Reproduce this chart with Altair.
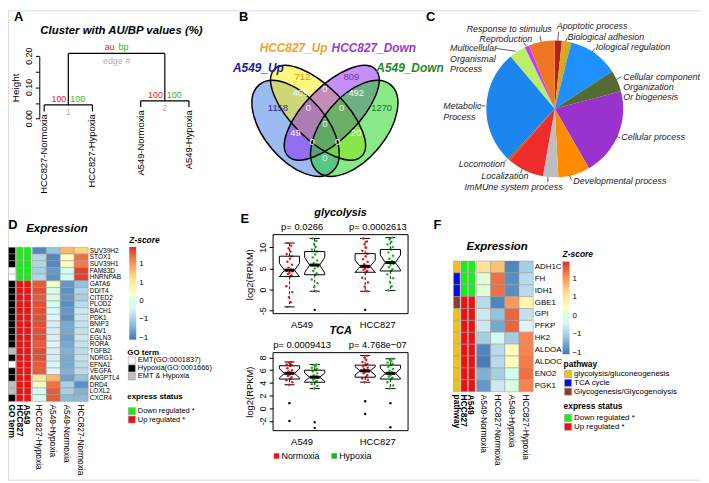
import math
import altair as alt
import pandas as pd

FONT = "Liberation Sans"

# ============================ DATA ============================
# ---- A: pvclust dendrogram
A_leaves = ["HCC827-Normoxia", "HCC827-Hypoxia", "A549-Normoxia", "A549-Hypoxia"]
A_merge_height = [0.044, 0.057, 0.209]          # HCC827 pair, A549 pair, root
A_au = ["au", "100", "100"]                      # root, node 1, node 2
A_bp = ["bp", "100", "100"]
A_edge = ["edge #", "1", "2"]
A_yticks = [0.0, 0.05, 0.10, 0.15, 0.20]
A_ylabels = ["0.00", "0.10", "0.20"]

# ---- B: Venn diagram
B_sets = ["A549_Up", "HCC827_Up", "HCC827_Down", "A549_Down"]
B_set_text_colors = ["#1c1c94", "#f5a02a", "#9a3cc8", "#1f8a1f"]
B_fill_colors = ["#3a78e4", "#fff200", "#8a22f0", "#14d414"]
B_counts = ["1158", "712", "809", "1270", "409", "0", "492", "0", "0", "0", "49", "0", "0", "20", "0"]
B_count_colors = ["#25259a", "#e8921a", "#7a35a8", "#1b7a1b"] + ["#f6f6f6"] * 11

# ---- C: GO pie
C_terms = ["Apoptotic process", "Biological adhesion", "Biological regulation",
           "Cellular component organization or biogenesis", "Cellular process",
           "Developmental process", "Immune system process", "Localization", "Locomotion",
           "Metabolic process", "Multicellular organismal process", "Reproduction",
           "Response to stimulus"]
C_counts = [6, 8, 43, 18, 75, 27, 13, 31, 2, 97, 14, 4, 22]
C_colors = ["#b22222", "#daa520", "#1e90ff", "#556b2f", "#9a32cd", "#ff8c00", "#bebebe",
            "#ee2c2c", "#cd5500", "#1c86ee", "#bcee68", "#bf3eff", "#ee7621"]
C_label_lines = ["Apoptotic process", "Biological adhesion", "Iological regulation",
                 "Cellular component", "Organization", "Or biogenesis", "Cellular process",
                 "Developmental process", "ImMUne system process", "Localization", "Locomotion",
                 "Metabolic", "Process", "Multicellular", "Organismal", "Process",
                 "Reproduction", "Response to stimulus"]

# ---- D: hypoxia / EMT heatmap
D_genes = ["SUV39H2", "STOX1", "SUV39H1", "FAM83D", "HNRNPAB", "GATA6", "DDIT4", "CITED2",
           "PLOD2", "BACH1", "PDK1", "BNIP3", "CAV1", "EGLN3", "RORA", "TGFB2", "NDRG1",
           "EFNA1", "VEGFA", "ANGPTL4", "DRD4", "LOXL2", "CXCR4"]
D_cols = ["HCC827-Hypoxia", "A549-Hypoxia", "A549-Normoxia", "HCC827-Normoxia"]
D_HCC827_Hypoxia = [-0.95, -0.45, -0.45, -0.5, -0.45, 1.3, 1.35, 1.3, 1.35, 1.35, 1.35, 1.35,
                    1.35, 1.35, 1.3, 1.35, 1.35, 1.3, 1.3, 0.55, 0.2, -0.1, 0.0]
D_A549_Hypoxia = [-0.6, -0.95, -0.95, -0.85, -0.9, 0.15, 0.0, 0.05, -0.05, -0.2, -0.15, -0.25,
                  -0.25, -0.25, -0.2, -0.25, -0.25, -0.15, -0.2, 0.85, 1.2, 1.3, 1.3]
D_A549_Normoxia = [0.85, 0.2, 0.25, -0.05, -0.05, -0.85, -0.9, -0.85, -0.9, -0.85, -0.9, -0.75,
                   -0.75, -0.8, -0.75, -0.7, -0.75, -0.75, -0.7, -0.8, -0.5, -0.5, -0.65]
D_HCC827_Normoxia = [0.7, 1.2, 1.15, 1.4, 1.4, -0.6, -0.45, -0.5, -0.4, -0.3, -0.3, -0.35,
                     -0.35, -0.3, -0.35, -0.4, -0.35, -0.4, -0.4, -0.6, -0.9, -0.7, -0.65]
D_go_term = ["Hypoxia(GO:0001666)"] * 3 + ["EMT(GO:0001837)"] * 2 + ["Hypoxia(GO:0001666)"] * 10 + \
            ["EMT & Hypoxia", "Hypoxia(GO:0001666)", "EMT(GO:0001837)", "Hypoxia(GO:0001666)",
             "Hypoxia(GO:0001666)", "EMT & Hypoxia", "EMT & Hypoxia", "Hypoxia(GO:0001666)"]
D_HCC827_status = ["Down regulated *"] * 5 + ["Up regulated *"] * 18
D_A549_status = ["Down regulated *"] * 5 + ["Up regulated *"] * 18
GO_levels = ["EMT(GO:0001837)", "Hypoxia(GO:0001666)", "EMT & Hypoxia"]
GO_colors = ["#ffffff", "#000000", "#bebebe"]
ST_levels = ["Down regulated *", "Up regulated *"]
ST_colors = ["#19ee19", "#ee1111"]

# ---- E: notched boxplots (log2 RPKM)
E_groups = ["A549", "HCC827"]
E_conds = ["Normoxia", "Hypoxia"]
E_box_cond = ["Normoxia", "Hypoxia", "Normoxia", "Hypoxia"]
GLY_pvals = ["p= 0.0266", "p= 0.0002613"]
TCA_pvals = ["p= 0.0009413", "p= 4.768e\u221207"]
GLY_WLO = [-4.1, -0.4, -0.4, -0.2]
GLY_Q1 = [3.1, 3.5, 4.1, 4.4]
GLY_MED = [4.6, 5.8, 5.5, 6.4]
GLY_Q3 = [7.9, 9.0, 8.5, 9.5]
GLY_WHI = [11.0, 12.1, 12.1, 12.3]
GLY_A549_Normoxia = [-4.1, -3.0, -1.8, -0.6, 0.8, 3.1, 3.4, 3.7, 4.0, 4.3, 4.5, 4.7, 5.2, 5.9, 6.6,
                     7.3, 7.9, 8.4, 9.0, 9.8, 10.4, 11.0]
GLY_A549_Hypoxia = [-4.8, -0.4, 0.6, 1.5, 2.4, 3.5, 3.9, 4.4, 5.0, 5.4, 5.7, 5.9, 6.3, 6.9, 7.6,
                    8.3, 9.0, 9.5, 10.1, 10.8, 11.5, 12.1]
GLY_HCC827_Normoxia = [-4.8, -0.4, 0.7, 1.7, 2.8, 4.1, 4.4, 4.7, 5.0, 5.2, 5.4, 5.6, 6.0, 6.6, 7.2,
                       7.9, 8.5, 9.2, 9.9, 10.7, 11.4, 12.1]
GLY_HCC827_Hypoxia = [-0.2, 0.8, 1.8, 2.7, 3.6, 4.4, 4.8, 5.3, 5.8, 6.1, 6.4, 6.8, 7.3, 8.0, 8.8,
                      9.5, 10.1, 10.7, 11.3, 11.9, 12.3]
TCA_WLO = [3.7, 3.1, 4.1, 3.1]
TCA_Q1 = [4.6, 4.1, 4.9, 4.6]
TCA_MED = [5.5, 4.9, 5.9, 5.5]
TCA_Q3 = [6.7, 6.0, 6.8, 6.8]
TCA_WHI = [7.3, 6.9, 8.3, 7.8]
TCA_A549_Normoxia = [-2.0, 0.8, 3.7, 4.1, 4.4, 4.6, 4.9, 5.1, 5.3, 5.4, 5.5, 5.6, 5.8, 6.0, 6.3,
                     6.7, 6.8, 6.9, 7.0, 7.2, 7.3]
TCA_A549_Hypoxia = [-3.1, -2.2, 3.1, 3.5, 3.8, 4.1, 4.3, 4.5, 4.7, 4.8, 4.9, 5.0, 5.2, 5.5, 5.8,
                    6.0, 6.2, 6.4, 6.6, 6.8, 6.9]
TCA_HCC827_Normoxia = [-0.9, 1.1, 4.1, 4.5, 4.7, 4.9, 5.2, 5.5, 5.7, 5.8, 5.9, 6.0, 6.2, 6.4, 6.6,
                       6.8, 7.0, 7.3, 7.6, 8.0, 8.3]
TCA_HCC827_Hypoxia = [-3.0, 0.8, 3.1, 3.6, 4.1, 4.6, 4.8, 5.0, 5.2, 5.4, 5.5, 5.7, 5.9, 6.2, 6.5,
                      6.8, 7.0, 7.2, 7.4, 7.6, 7.8]
GLY_YTICKS = [-5, 0, 5, 10]
TCA_YTICKS = [-2, 0, 2, 4, 6, 8]
E_red, E_green = "#e8161b", "#19b419"

# ---- F: glycolysis / TCA heatmap
F_genes = ["ADH1C", "FH", "IDH1", "GBE1", "GPI", "PFKP", "HK2", "ALDOA", "ALDOC", "ENO2", "PGK1"]
F_cols = ["A549-Normoxia", "HCC827-Normoxia", "A549-Hypoxia", "HCC827-Hypoxia"]
F_A549_Normoxia = [0.6, 0.1, 0.1, -0.4, -0.3, -0.3, -0.5, -0.95, -1.0, -0.7, -0.85]
F_HCC827_Normoxia = [0.8, 1.2, 1.2, -0.95, -0.6, -0.75, -0.1, -0.4, -0.4, -0.5, -0.3]
F_A549_Hypoxia = [-0.95, -0.9, -0.9, 1.0, 1.25, 1.25, -0.5, 0.25, 0.25, 0.0, 0.05]
F_HCC827_Hypoxia = [-0.5, -0.4, -0.4, 0.35, -0.35, -0.2, 1.1, 1.1, 1.15, 1.2, 1.1]
PW_levels = ["glycolysis/gluconeogenesis", "TCA cycle", "Glycogenesis/Glycogenolysis"]
PW_colors = ["#eec21a", "#0a0ae6", "#8b3d2e"]
F_pathway = [PW_levels[0], PW_levels[1], PW_levels[1], PW_levels[2]] + [PW_levels[0]] * 7
F_HCC827_status = ["Down regulated *"] * 3 + ["Up regulated *"] * 8
F_A549_status = ["Down regulated *"] * 3 + ["Up regulated *"] * 8

Z_colors = ["#4575b4", "#91bfdb", "#e0f3f8", "#ffffbf", "#fee090", "#fc8d59", "#d73027"]

# ============================ LAYOUT ============================
SX, SY = 0.988, 0.985


def X(px):
    return (px - 1.0) * SX


def Y(py):
    return (py - 2.0) * SY


def qx(dom, p0, p1):
    return alt.Scale(domain=dom, range=[X(p0), X(p1)], nice=False, zero=False)


def qy(dom, p0, p1):
    return alt.Scale(domain=dom, range=[Y(p0), Y(p1)], nice=False, zero=False)


def bx(dom, p0, p1, pad=0.0, outer=0.0):
    return alt.Scale(domain=dom, range=[X(p0), X(p1)], paddingInner=pad, paddingOuter=outer)


def by(dom, p0, p1, pad=0.0, outer=0.0):
    return alt.Scale(domain=dom, range=[Y(p0), Y(p1)], paddingInner=pad, paddingOuter=outer)


PXS = qx([0, 709], 0, 709)
PYS = qy([0, 483], 0, 483)


def texts(df, xs, ys, xt="quantitative", yt="quantitative", **mk):
    props = dict(font=FONT, fontSize=9, color="black")
    props.update(mk)
    enc = dict(x=alt.X("x", type=xt, scale=xs, axis=None),
               y=alt.Y("y", type=yt, scale=ys, axis=None),
               text=alt.Text("t:N"))
    if "c" in df.columns:
        enc["color"] = alt.Color("c:N", scale=None, legend=None)
    return alt.Chart(df).mark_text(**props).encode(**enc)


def rules(df, xs, ys, yaxis=None, **mk):
    props = dict(color="black", strokeWidth=1)
    props.update(mk)
    return alt.Chart(df).mark_rule(**props).encode(
        x=alt.X("x:Q", scale=xs, axis=None), x2=alt.X2("x2:Q"),
        y=alt.Y("y:Q", scale=ys, axis=yaxis), y2=alt.Y2("y2:Q"))


def key_legend(title, levels, colors, x0, ytitle, yfirst, step, sw, lab_fs, title_fs):
    """Vertical key: title, then one square swatch + label per level."""
    out = []
    n = len(levels)
    gap = 1 - sw / step
    ys = by(levels, yfirst - step / 2, yfirst - step / 2 + n * step, pad=gap, outer=gap / 2)
    xs = bx(["key"], x0, x0 + sw)
    df = pd.DataFrame({"k": "key", "lev": levels})
    out.append(alt.Chart(df).mark_rect(stroke="#9a9a9a", strokeWidth=0.6).encode(
        x=alt.X("k:N", scale=xs, axis=None), y=alt.Y("lev:N", scale=ys, axis=None),
        color=alt.Color("lev:N", scale=alt.Scale(domain=levels, range=colors), legend=None)))
    out.append(texts(pd.DataFrame({"x": "key", "y": levels, "t": levels}), xs, ys, xt="nominal",
                     yt="nominal", align="left", baseline="middle", dx=sw * SX / 2 + 2.5, fontSize=lab_fs))
    out.append(texts(pd.DataFrame({"x": [x0 - 1], "y": [ytitle], "t": [title]}), PXS, PYS,
                     align="left", baseline="middle", fontSize=title_fs, fontWeight="bold"))
    return out


def grad_legend(lx, ly, length):
    return alt.Legend(orient="none", legendX=X(lx), legendY=Y(ly), title="Z-score",
                      direction="vertical", gradientLength=length, gradientThickness=7,
                      gradientStrokeWidth=0, values=[-1, -0.5, 0, 0.5, 1], labelOverlap=False,
                      labelFont=FONT, labelFontSize=8, labelColor="black", labelOffset=3,
                      titleFont=FONT, titleFontSize=8.5, titleFontWeight="bold",
                      titleFontStyle="italic", titleColor="black", titlePadding=3, padding=0)


def zscale(lo, hi):
    return alt.Scale(domain=[lo + (hi - lo) * i / 6 for i in range(7)], range=Z_colors)


layers = []

# ---------------------------- A ----------------------------
A_pos = [1, 2, 3, 4]
m1, m2, root = A_merge_height
hang = 0.1 * root
A_PX0, A_PX1, A_AXIS_PX = 38, 186, 33
A_xs = qx([1, 4], A_PX0, A_PX1)
A_ys = qy([0, 0.2], 113, 49)
n1x, n2x = (A_pos[0] + A_pos[1]) / 2, (A_pos[2] + A_pos[3]) / 2
rx = (n1x + n2x) / 2
segs = pd.DataFrame([
    (A_pos[0], m1 - hang, A_pos[0], m1), (A_pos[1], m1 - hang, A_pos[1], m1), (A_pos[0], m1, A_pos[1], m1),
    (A_pos[2], m2 - hang, A_pos[2], m2), (A_pos[3], m2 - hang, A_pos[3], m2), (A_pos[2], m2, A_pos[3], m2),
    (n1x, m1, n1x, root), (n2x, m2, n2x, root), (n1x, root, n2x, root)],
    columns=["x", "y", "x2", "y2"])
A_axis = alt.Axis(orient="left", offset=-X(A_AXIS_PX), values=A_yticks, labels=False,
                  tickSize=4, tickColor="black", domainColor="black", grid=False, title="Height",
                  titleFont=FONT, titleFontSize=10, titleFontWeight="normal", titleColor="black",
                  titlePadding=14)
layers.append(rules(segs, A_xs, A_ys, yaxis=A_axis, strokeWidth=1.2))
# tick labels of the height axis (rotated, R style), beside the axis ticks
A_lab_scale_x = qx([0, 1], 0, 709)
layers.append(alt.Chart(pd.DataFrame({"x": [(A_AXIS_PX - 10) / 709] * 3, "y": [0.0, 0.1, 0.2],
                                      "t": A_ylabels}))
              .mark_text(font=FONT, fontSize=9, color="black", angle=270, align="center",
                         baseline="middle")
              .encode(x=alt.X("x:Q", scale=A_lab_scale_x, axis=None),
                      y=alt.Y("y:Q", scale=A_ys, axis=None), text="t:N"))
leaf_df = pd.DataFrame({"x": A_pos, "y": [m1 - hang] * 2 + [m2 - hang] * 2, "t": A_leaves})
layers.append(texts(leaf_df, A_xs, A_ys, angle=270, align="right", baseline="middle", dx=-3, fontSize=9.5))
node_x, node_y = [rx, n1x, n2x], [root, m1, m2]
layers.append(texts(pd.DataFrame({"x": node_x, "y": node_y, "t": A_au}), A_xs, A_ys,
                    align="right", baseline="middle", dx=-2, dy=-6, color="#ee2222", fontSize=9))
layers.append(texts(pd.DataFrame({"x": node_x, "y": node_y, "t": A_bp}), A_xs, A_ys,
                    align="left", baseline="middle", dx=2, dy=-6, color="#22bb22", fontSize=9))
layers.append(texts(pd.DataFrame({"x": node_x, "y": node_y, "t": A_edge}), A_xs, A_ys,
                    align="center", baseline="middle", dy=7.5, color="#b0b0b0", fontSize=9))
layers.append(texts(pd.DataFrame({"x": [117], "y": [23], "t": ["Cluster with AU/BP values (%)"]}),
                    PXS, PYS, fontSize=11.5, fontWeight="bold", fontStyle="italic"))

# ---------------------------- B ----------------------------
B_cx, B_cy = [295, 318, 332, 355], [123, 107, 107, 123]
B_a, B_b = [58, 63, 63, 58], [32, 27, 27, 32]
B_ang = [50, 45, 315, 310]


def ell_path(r):
    k = 0.5523
    f = lambda v: f"{v:.4f}"
    return (f"M 1 0 C 1 {f(k*r)} {f(k)} {f(r)} 0 {f(r)} C {f(-k)} {f(r)} -1 {f(k*r)} -1 0 "
            f"C -1 {f(-k*r)} {f(-k)} {f(-r)} 0 {f(-r)} C {f(k)} {f(-r)} 1 {f(-k*r)} 1 0 Z")


ell = pd.DataFrame({"x": B_cx, "y": B_cy,
                    "path": [ell_path(b / a) for a, b in zip(B_a, B_b)],
                    "sz": [(2 * a * SX) ** 2 for a in B_a], "ang": B_ang, "fill": B_fill_colors,
                    "set": B_sets, "ord": [0, 1, 2, 3]})
ell_enc = dict(x=alt.X("x:Q", scale=PXS, axis=None), y=alt.Y("y:Q", scale=PYS, axis=None),
               shape=alt.Shape("path:N", scale=None), size=alt.Size("sz:Q", scale=None),
               angle=alt.Angle("ang:Q", scale=None), order=alt.Order("ord:Q"))
layers.append(alt.Chart(ell).mark_point(filled=True, opacity=1, fillOpacity=0.5, strokeWidth=0)
              .encode(color=alt.Color("fill:N", scale=None), **ell_enc))
layers.append(alt.Chart(ell).mark_point(filled=False, opacity=1, color="black", strokeWidth=1.5)
              .encode(**ell_enc))
B_cnt_x = [277, 302, 352, 383, 300, 325, 357, 308, 342, 325, 295, 312, 338, 357, 325]
B_cnt_y = [102, 70, 70, 102, 87, 83, 87, 102, 102, 119, 128, 137, 137, 128, 153]
layers.append(texts(pd.DataFrame({"x": B_cnt_x, "y": B_cnt_y, "t": B_counts, "c": B_count_colors}),
                    PXS, PYS, fontSize=9.5))
layers.append(texts(pd.DataFrame({"x": [257, 293, 375, 412], "y": [61, 41, 41, 61], "t": B_sets,
                                  "c": B_set_text_colors}),
                    PXS, PYS, fontSize=12, fontWeight="bold", fontStyle="italic"))

# ---------------------------- C ----------------------------
C_CX, C_CY, C_R = 560, 103, 70
C_xs = qx([-1, 1], C_CX - C_R, C_CX + C_R)
C_ys = qy([-1, 1], C_CY + C_R, C_CY - C_R)
pie = pd.DataFrame({"term": C_terms, "n": C_counts, "i": list(range(len(C_terms))),
                    "col": C_colors, "cx": 0.0, "cy": 0.0})
layers.append(alt.Chart(pie).mark_arc(outerRadius=C_R * SX).encode(
    theta=alt.Theta("n:Q", stack=True), order=alt.Order("i:Q"),
    color=alt.Color("col:N", scale=None, legend=None),
    x=alt.X("cx:Q", scale=C_xs, axis=None), y=alt.Y("cy:Q", scale=C_ys, axis=None)))
C_lead = pd.DataFrame([
    (563, 33, 564, 24), (571, 34, 573, 30), (598, 45, 601, 41), (623, 73, 628, 70),
    (623, 131, 627, 133), (575, 171, 577, 176), (553, 173, 553, 178), (527, 164, 525, 169),
    (511, 155, 508, 158), (489, 100, 484, 100), (520, 44, 500, 41), (531, 39, 528, 35),
    (546, 34, 545, 28)], columns=["x", "y", "x2", "y2"])
layers.append(rules(C_lead, PXS, PYS, color="#333333", strokeWidth=0.8))
C_lab_x = [562, 573, 602, 630, 630, 630, 628, 579, 568, 533, 509, 446, 446, 453, 453, 453, 537, 557]
C_lab_y = [18, 29, 40, 70, 81, 91, 132, 177, 183, 172, 160, 100, 111, 41, 52, 62, 31, 21]
C_lab_right = [False, False, False, False, False, False, False, False, True, True, True,
               False, False, False, False, False, True, True]
lab = pd.DataFrame({"x": C_lab_x, "y": C_lab_y, "t": C_label_lines, "r": C_lab_right})
layers.append(texts(lab[~lab.r].drop(columns="r"), PXS, PYS, align="left", fontSize=9,
                    fontStyle="italic", color="#222222"))
layers.append(texts(lab[lab.r].drop(columns="r"), PXS, PYS, align="right", fontSize=9,
                    fontStyle="italic", color="#222222"))


# ---------------------------- heatmap builder (D, F) ----------------------------
def heatmap(genes, cols, colvals, ann_names, ann_first, ann_first_levels, ann_first_colors,
            status_cols, px0, px1, py0, py1, ax0, ax1, zlo, zhi, zleg, gene_fs, col_fs):
    xs = bx(cols, px0, px1)
    ys = by(genes, py0, py1)
    axs = bx(ann_names, ax0, ax1, pad=0.12)
    cells = pd.DataFrame([(g, c, v) for c, vals in zip(cols, colvals) for g, v in zip(genes, vals)],
                         columns=["gene", "col", "z"])
    out = []
    out.append(alt.Chart(cells).mark_rect(stroke="#9a9a9a", strokeWidth=0.5).encode(
        x=alt.X("col:N", scale=xs, axis=None), y=alt.Y("gene:N", scale=ys, axis=None),
        color=alt.Color("z:Q", scale=zscale(zlo, zhi), legend=grad_legend(*zleg))))
    a1 = pd.DataFrame({"gene": genes, "ann": ann_names[0], "cat": ann_first})
    out.append(alt.Chart(a1).mark_rect(stroke="#9a9a9a", strokeWidth=0.5).encode(
        x=alt.X("ann:N", scale=axs, axis=None), y=alt.Y("gene:N", scale=ys, axis=None),
        color=alt.Color("cat:N", scale=alt.Scale(domain=ann_first_levels, range=ann_first_colors),
                        legend=None)))
    st = pd.DataFrame([(g, name, s) for name, vals in zip(ann_names[1:], status_cols)
                       for g, s in zip(genes, vals)], columns=["gene", "ann", "cat"])
    out.append(alt.Chart(st).mark_rect(stroke="#9a9a9a", strokeWidth=0.5).encode(
        x=alt.X("ann:N", scale=axs, axis=None), y=alt.Y("gene:N", scale=ys, axis=None),
        color=alt.Color("cat:N", scale=alt.Scale(domain=ST_levels, range=ST_colors), legend=None)))
    bw = (px1 - px0) / len(cols) * SX
    bh = (py1 - py0) / len(genes) * SY
    out.append(texts(pd.DataFrame({"x": cols[-1], "y": genes, "t": genes}), xs, ys,
                     xt="nominal", yt="nominal", align="left", baseline="middle",
                     dx=bw / 2 + 1.5, fontSize=gene_fs))
    out.append(texts(pd.DataFrame({"x": cols, "y": genes[-1], "t": cols}), xs, ys,
                     xt="nominal", yt="nominal", angle=90, align="left", baseline="middle",
                     dx=bh / 2 + 3, fontSize=col_fs))
    out.append(texts(pd.DataFrame({"x": ann_names, "y": genes[-1], "t": ann_names}), axs, ys,
                     xt="nominal", yt="nominal", angle=90, align="left", baseline="middle",
                     dx=bh / 2 + 3, fontSize=col_fs, fontWeight="bold"))
    return out


# ---------------------------- D ----------------------------
layers += heatmap(D_genes, D_cols, [D_HCC827_Hypoxia, D_A549_Hypoxia, D_A549_Normoxia, D_HCC827_Normoxia],
                  ["GO term", "HCC827", "A549"], D_go_term, GO_levels, GO_colors,
                  [D_HCC827_status, D_A549_status], 26, 83, 245, 403, 1.5, 24.5, -1.05, 1.47,
                  (125, 233, (340 - 245) * SY), 6.6, 8.5)
layers += key_legend("GO term", GO_levels, GO_colors, 124, 353, 361, 8.2, 7.2, 7.5, 8)
layers += key_legend("express status", ST_levels, ST_colors, 124, 398, 413, 8.6, 7.2, 7.5, 8)
layers.append(texts(pd.DataFrame({"x": [51], "y": [226], "t": ["Expression"]}), PXS, PYS,
                    fontSize=11.5, fontWeight="bold", fontStyle="italic"))

# ---------------------------- F ----------------------------
layers += heatmap(F_genes, F_cols, [F_A549_Normoxia, F_HCC827_Normoxia, F_A549_Hypoxia, F_HCC827_Hypoxia],
                  ["pathway", "HCC827", "A549"], F_pathway, PW_levels, PW_colors,
                  [F_HCC827_status, F_A549_status], 480, 538, 259, 393, 456.5, 478.5, -1.04, 1.47,
                  (568, 248, (355 - 260) * SY), 8, 8.5)
layers += key_legend("pathway", PW_levels, PW_colors, 570, 365, 375, 9, 7.2, 8, 8.5)
layers += key_legend("express status", ST_levels, ST_colors, 570, 408, 420, 9, 7.2, 8, 8.5)
layers.append(texts(pd.DataFrame({"x": [501], "y": [245], "t": ["Expression"]}), PXS, PYS,
                    fontSize=11.5, fontWeight="bold", fontStyle="italic"))

# ---------------------------- E ----------------------------
E_XDOM = [0.35, 5.7]
E_box_pos = [1, 2, 4, 5]
E_group_pos = [(E_box_pos[0] + E_box_pos[1]) / 2, (E_box_pos[2] + E_box_pos[3]) / 2]
JIT = [-0.09, 0.05, -0.02, 0.11, -0.12, 0.03, 0.08, -0.06, 0.0, 0.12, -0.1, 0.06, -0.04,
       0.1, -0.08, 0.02, 0.09, -0.11, 0.04, -0.03, 0.07, -0.07]


def box_panel(title, pvals, pts, wlo, q1, med, q3, whi, ydom, pyb, pyt, yticks):
    xs = qx(E_XDOM, 272, 410)
    ys = qy(ydom, pyb, pyt)
    out = []
    frame = pd.DataFrame({"x": [E_XDOM[0]], "x2": [E_XDOM[1]], "y": [ydom[0]], "y2": [ydom[1]]})
    ax = alt.Axis(orient="left", offset=-X(272), values=yticks, labelExpr="toString(datum.value)",
                  labelOverlap=False, labelBound=False, labelFlush=False,
                  labelAngle=270, labelAlign="center", labelBaseline="bottom", labelPadding=2,
                  labelFont=FONT, labelFontSize=9, labelColor="black", tickSize=4, tickColor="black",
                  domain=False, grid=False, title="log2(RPKM)", titleFont=FONT, titleFontSize=9.5,
                  titleFontWeight="normal", titleColor="black", titlePadding=4)
    out.append(alt.Chart(frame).mark_rect(fillOpacity=0, stroke="black", strokeWidth=1).encode(
        x=alt.X("x:Q", scale=xs, axis=None), x2=alt.X2("x2:Q"),
        y=alt.Y("y:Q", scale=ys, axis=ax), y2=alt.Y2("y2:Q")))
    w = 0.4
    rows, meds, whisk, stap, pin, pout = [], [], [], [], [], []
    for b, p in enumerate(E_box_pos):
        nh = 1.58 * (q3[b] - q1[b]) / math.sqrt(len(pts[b]))
        nlo, nhi = med[b] - nh, med[b] + nh
        verts = [(p - w, q1[b]), (p - w, nlo), (p - w / 2, med[b]), (p - w, nhi), (p - w, q3[b]),
                 (p + w, q3[b]), (p + w, nhi), (p + w / 2, med[b]), (p + w, nlo), (p + w, q1[b]),
                 (p - w, q1[b])]
        rows += [{"box": b, "k": k, "x": vx, "y": vy} for k, (vx, vy) in enumerate(verts)]
        meds.append((p - w / 2, med[b], p + w / 2, med[b]))
        whisk += [(p, q3[b], p, whi[b]), (p, q1[b], p, wlo[b])]
        stap += [(p - w / 2, whi[b], p + w / 2, whi[b]), (p - w / 2, wlo[b], p + w / 2, wlo[b])]
        for k, v in enumerate(pts[b]):
            if wlo[b] - 1e-9 <= v <= whi[b] + 1e-9:
                pin.append({"x": p + JIT[k % len(JIT)], "y": v, "cond": E_box_cond[b]})
            else:
                pout.append({"x": p, "y": v})
    cols4 = ["x", "y", "x2", "y2"]
    out.append(rules(pd.DataFrame(whisk, columns=cols4), xs, ys, strokeDash=[3, 2], strokeWidth=0.9))
    out.append(rules(pd.DataFrame(stap, columns=cols4), xs, ys, strokeWidth=1))
    out.append(alt.Chart(pd.DataFrame(pin)).mark_point(filled=True, size=6, opacity=1).encode(
        x=alt.X("x:Q", scale=xs, axis=None), y=alt.Y("y:Q", scale=ys, axis=None),
        color=alt.Color("cond:N", scale=alt.Scale(domain=E_conds, range=[E_red, E_green]),
                        legend=None)))
    out.append(alt.Chart(pd.DataFrame(rows)).mark_line(color="black", strokeWidth=1).encode(
        x=alt.X("x:Q", scale=xs, axis=None), y=alt.Y("y:Q", scale=ys, axis=None),
        detail="box:N", order="k:Q"))
    out.append(rules(pd.DataFrame(meds, columns=cols4), xs, ys, strokeWidth=3))
    if pout:
        out.append(alt.Chart(pd.DataFrame(pout)).mark_point(filled=True, size=6, opacity=1, color="black")
                   .encode(x=alt.X("x:Q", scale=xs, axis=None), y=alt.Y("y:Q", scale=ys, axis=None)))
    out.append(texts(pd.DataFrame({"x": E_group_pos, "y": [ydom[0]] * 2, "t": E_groups}), xs, ys,
                     dy=11, fontSize=9.5))
    out.append(texts(pd.DataFrame({"x": E_group_pos, "y": [ydom[1]] * 2, "t": pvals}), xs, ys,
                     dy=-8, fontSize=9.5))
    out.append(texts(pd.DataFrame({"x": [sum(E_XDOM) / 2], "y": [ydom[1]], "t": [title]}), xs, ys,
                     dy=-22, fontSize=11, fontWeight="bold", fontStyle="italic"))
    return out


layers += box_panel("glycolysis", GLY_pvals,
                    [GLY_A549_Normoxia, GLY_A549_Hypoxia, GLY_HCC827_Normoxia, GLY_HCC827_Hypoxia],
                    GLY_WLO, GLY_Q1, GLY_MED, GLY_Q3, GLY_WHI, [-5.7, 13.0], 313, 232, GLY_YTICKS)
layers += box_panel("TCA", TCA_pvals,
                    [TCA_A549_Normoxia, TCA_A549_Hypoxia, TCA_HCC827_Normoxia, TCA_HCC827_Hypoxia],
                    TCA_WLO, TCA_Q1, TCA_MED, TCA_Q3, TCA_WHI, [-3.54, 8.77], 433, 353, TCA_YTICKS)
# horizontal key under E: swatch + label for each condition
E_kx = qx([0, 1], 275.5, 334.5)
E_ky = qy([0, 1], 459, 449)
E_key = pd.DataFrame({"x": [0, 1], "y": [0, 0], "t": E_conds, "cond": E_conds})
layers.append(alt.Chart(E_key).mark_square(size=30, opacity=1).encode(
    x=alt.X("x:Q", scale=E_kx, axis=None), y=alt.Y("y:Q", scale=E_ky, axis=None),
    color=alt.Color("cond:N", scale=alt.Scale(domain=E_conds, range=[E_red, E_green]), legend=None)))
layers.append(texts(E_key[["x", "y", "t"]], E_kx, E_ky, align="left", baseline="middle", dx=5,
                    fontSize=9))

# ---------------------------- panel letters ----------------------------
layers.append(texts(pd.DataFrame({"x": [12, 242, 433, 6, 243, 440], "y": [9, 9, 9, 222, 216, 222],
                                  "t": ["A", "B", "C", "D", "E", "F"]}),
                    PXS, PYS, fontSize=13, fontWeight="bold"))

chart = alt.layer(*layers).resolve_scale(
    x="independent", y="independent", color="independent", size="independent",
    shape="independent", angle="independent", theta="independent"
).properties(width=700, height=474, padding=0,
             autosize=alt.AutoSizeParams(type="none")
).configure_view(stroke=None).configure(font=FONT)

chart.save("out.html", embed_options={"renderer": "svg", "actions": False})
